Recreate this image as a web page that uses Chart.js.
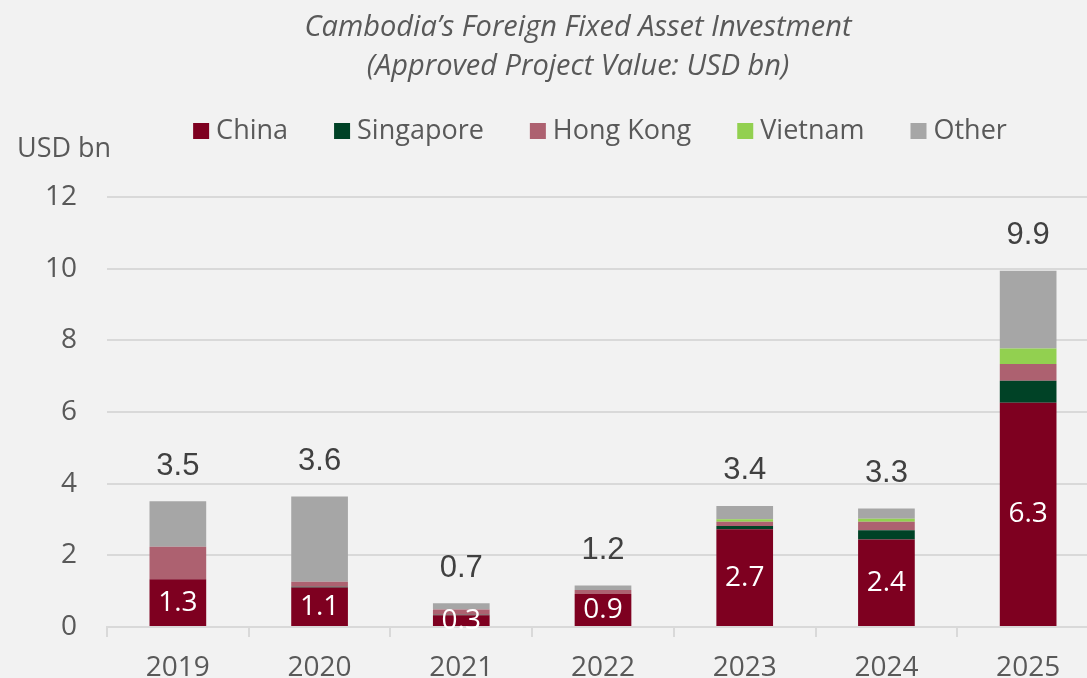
<!DOCTYPE html>
<html>
<head>
<meta charset="utf-8">
<script src="https://cdn.jsdelivr.net/npm/chart.js@4.4.0/dist/chart.umd.min.js"></script>
<style>
  html, body { margin: 0; padding: 0; background: #f2f2f2; overflow: hidden; }
  canvas { display: block; }
</style>
</head>
<body>
<canvas id="fdiChart" width="1100" height="690"></canvas>
<script>
const years     = ['2019', '2020', '2021', '2022', '2023', '2024', '2025'];
const china     = [1.33, 1.10, 0.33, 0.92, 2.73, 2.44, 6.26];
const singapore = [0.00, 0.02, 0.01, 0.00, 0.09, 0.26, 0.61];
const hongKong  = [0.91, 0.14, 0.15, 0.11, 0.12, 0.24, 0.47];
const vietnam   = [0.00, 0.00, 0.00, 0.00, 0.07, 0.08, 0.43];
const other     = [1.27, 2.38, 0.17, 0.13, 0.37, 0.29, 2.17];
const yTicks    = [0, 2, 4, 6, 8, 10, 12];

const titleLines = ['Cambodia’s Foreign Fixed Asset Investment', '(Approved Project Value: USD bn)'];
const unitLabel = 'USD bn';

const textGrey = '#595959';
const gridGrey = '#d9d9d9';
const baseFont = '"Open Sans", "DejaVu Sans", sans-serif';

const makeSeries = (label, data, color) => ({
  label: label,
  data: data,
  backgroundColor: color,
  borderWidth: 0
});

// title, legend and unit label sit above the plot
const headerPlugin = {
  id: 'header',
  afterDraw(chart) {
    const ctx = chart.ctx;
    ctx.save();
    ctx.fillStyle = textGrey;
    ctx.textBaseline = 'middle';

    ctx.textAlign = 'center';
    ctx.font = 'italic 29px ' + baseFont;
    ctx.fillText(titleLines[0], 578, 28);
    ctx.fillText(titleLines[1], 578, 67);

    ctx.textAlign = 'left';
    ctx.font = '27px ' + baseFont;
    ctx.fillText(unitLabel, 17, 149);

    // legend
    const box = 16, boxGap = 7, itemGap = 46;
    const items = chart.data.datasets.map(ds => ({
      text: ds.label,
      color: ds.backgroundColor,
      w: box + boxGap + ctx.measureText(ds.label).width
    }));
    const total = items.reduce((s, it) => s + it.w, 0) + itemGap * (items.length - 1);
    let x = 600 - total / 2;
    const cy = 131;
    items.forEach(it => {
      ctx.fillStyle = it.color;
      ctx.fillRect(x, cy - box / 2, box, box);
      ctx.fillStyle = textGrey;
      ctx.fillText(it.text, x + box + boxGap, cy);
      x += it.w + itemGap;
    });
    ctx.restore();
  }
};

// China value inside the bar, total above the stack
const barLabelPlugin = {
  id: 'barLabels',
  afterDatasetsDraw(chart) {
    const ctx = chart.ctx;
    const yScale = chart.scales.y;
    const meta = chart.getDatasetMeta(0);
    ctx.save();
    ctx.textAlign = 'center';
    ctx.textBaseline = 'middle';
    meta.data.forEach((bar, i) => {
      ctx.font = '28px ' + baseFont;
      ctx.fillStyle = '#ffffff';
      ctx.fillText(china[i].toFixed(1), bar.x, (bar.y + bar.base) / 2);

      const sum = chart.data.datasets.reduce((s, ds) => s + ds.data[i], 0);
      ctx.font = '31px "Liberation Sans", Arial, sans-serif';
      ctx.fillStyle = '#404040';
      ctx.fillText(sum.toFixed(1), bar.x, yScale.getPixelForValue(sum) - 35);
    });
    ctx.restore();
  }
};

const ctx = document.getElementById('fdiChart');
new Chart(ctx, {
  type: 'bar',
  data: {
    labels: years,
    datasets: [
      makeSeries('China', china, '#7e0020'),
      makeSeries('Singapore', singapore, '#004226'),
      makeSeries('Hong Kong', hongKong, '#ad6170'),
      makeSeries('Vietnam', vietnam, '#92d050'),
      makeSeries('Other', other, '#a6a6a6')
    ]
  },
  options: {
    responsive: false,
    animation: false,
    events: [],
    barPercentage: 0.4,
    categoryPercentage: 1,
    layout: { padding: { top: 197, left: 0, right: 1, bottom: 0 } },
    plugins: {
      legend: { display: false },
      title: { display: false },
      tooltip: { enabled: false }
    },
    scales: {
      x: {
        stacked: true,
        afterFit: (scale) => { scale.height = 63; },
        grid: {
          offset: true,
          drawOnChartArea: false,
          drawTicks: true,
          tickLength: 10,
          color: gridGrey,
          lineWidth: 2
        },
        border: { display: true, color: gridGrey, width: 2 },
        ticks: {
          color: textGrey,
          padding: 14,
          font: { family: baseFont, size: 28 }
        }
      },
      y: {
        stacked: true,
        min: 0,
        max: 12,
        afterFit: (scale) => { scale.width = 107; },
        afterBuildTicks: (scale) => { scale.ticks = yTicks.map(v => ({ value: v })); },
        grid: { drawTicks: false, color: gridGrey, lineWidth: 2 },
        border: { display: false },
        ticks: {
          color: textGrey,
          padding: 30,
          font: { family: baseFont, size: 28 }
        }
      }
    }
  },
  plugins: [headerPlugin, barLabelPlugin]
});
</script>
</body>
</html>
